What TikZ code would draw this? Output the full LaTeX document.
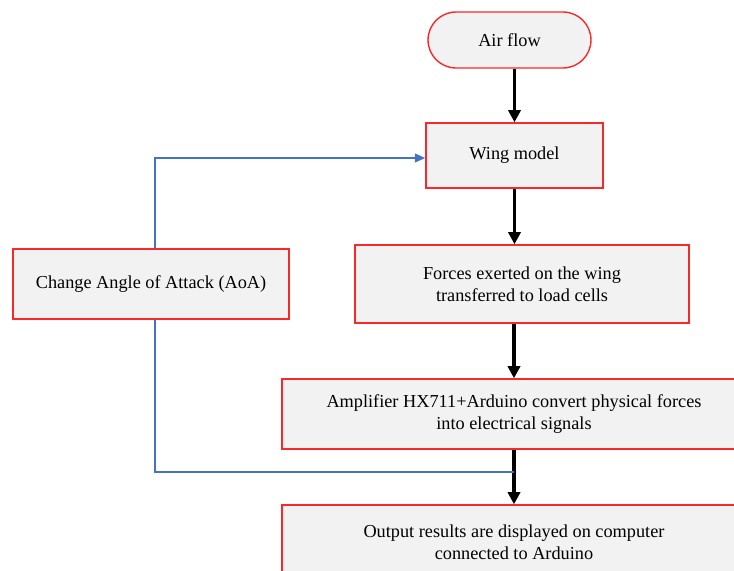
\documentclass[tikz,border=0pt]{standalone}
\usepackage{fontspec}
\setmainfont{Liberation Serif}
\usetikzlibrary{arrows.meta,calc}
\definecolor{boxred}{RGB}{250,40,40}
\definecolor{boxfill}{RGB}{242,242,242}
\definecolor{loopblue}{RGB}{68,114,196}

\begin{document}
\begin{tikzpicture}[x=0.02cm, y=-0.02cm,
  stepbox/.style={draw=boxred,thick,fill=boxfill,rectangle,align=center,inner sep=0pt,
    font=\fontsize{10.4}{12.6}\selectfont},
  startbox/.style={stepbox,rounded corners=0.56cm},
  flow/.style={-{Triangle[length=7pt,width=7pt]},line width=2pt,black},
  feedback/.style={loopblue,line width=1.1pt}]
  \useasboundingbox (0,0) rectangle (734,571);

  \node [startbox,minimum width=3.26cm,minimum height=1.12cm] (air) at (509.5,40) {Air flow};
  \node [stepbox,minimum width=3.54cm,minimum height=1.3cm] (wing) at (514.5,155.5) {Wing model};
  \node [stepbox,minimum width=6.68cm,minimum height=1.56cm] (forces) at (522,284)
    {Forces exerted on the wing\\transferred to load cells};
  \node [stepbox,minimum width=5.52cm,minimum height=1.4cm] (aoa) at (151,284)
    {Change Angle of Attack (AoA)};
  \node [stepbox,minimum width=9.28cm,minimum height=1.4cm] (amp) at (514,414)
    {Amplifier HX711+Arduino convert physical forces\\into electrical signals};
  \node [stepbox,minimum width=9.28cm,minimum height=1.5cm] (out) at (514,542.5)
    {Output results are displayed on computer\\connected to Arduino};

  \coordinate (join) at (514,472);

  \draw [flow] (air.south -| wing.north) -- (wing.north);
  \draw [flow] (wing.south) -- (wing.south |- forces.north);
  \draw [flow] (forces.south -| amp.north) -- (amp.north);
  \draw [flow] (amp.south) -- (out.north);

  \draw [feedback,-{Triangle[length=6pt,width=5pt]}] ($(aoa.north)+(4,0)$) |- ($(wing.west)+(0,2.5)$);
  \draw [feedback] ($(aoa.south)+(4,0)$) |- (join);
\end{tikzpicture}
\end{document}
